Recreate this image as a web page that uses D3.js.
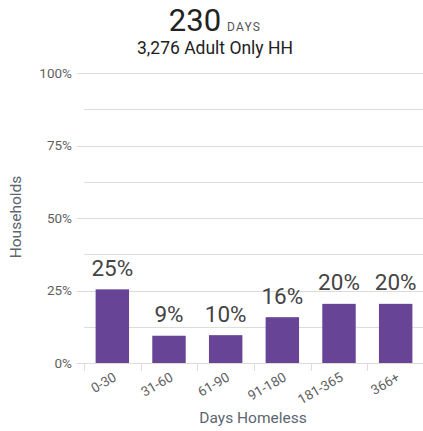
<!DOCTYPE html>
<html><head><meta charset="utf-8">
<script src="https://cdn.jsdelivr.net/npm/d3@7"></script>
<style>
body{margin:0;background:#fff;}
text{font-family:Roboto,"Noto Sans",sans-serif;}
</style></head>
<body>
<svg id="chart" width="423" height="431"></svg>
<script>
const categories = ["0-30","31-60","61-90","91-180","181-365","366+"];
const values = [25.4, 9.4, 9.6, 15.8, 20.4, 20.4];
const yTicks = [0, 25, 50, 75, 100];
const yMinor = [12.5, 37.5, 62.5, 87.5];
const totalDays = "230";
const subtitle = "3,276 Adult Only HH";

const svg = d3.select("#chart");
const x = d3.scaleBand().domain(categories).range([84, 424]).paddingInner(0.41).paddingOuter(0.205);
const y = d3.scaleLinear().domain([0, 100]).range([363, 73]);

// gridlines
svg.append("g").selectAll("line").data(yTicks.concat(yMinor)).join("line")
  .attr("x1", d => yTicks.includes(d) ? 77 : 84).attr("x2", 423)
  .attr("y1", d => Math.round(y(d)) + 0.5).attr("y2", d => Math.round(y(d)) + 0.5)
  .attr("stroke", "#dcdcdc").attr("stroke-width", 1);

// y labels
svg.append("g").selectAll("text").data(yTicks).join("text")
  .attr("x", 72).attr("y", d => y(d) + 4.5).attr("text-anchor", "end")
  .attr("font-size", 13.5).attr("fill", "#5f5f5f").text(d => d + "%");

// x tick marks
const bounds = categories.map(c => x(c) - x.step() * x.paddingInner() / 2);
svg.append("g").selectAll("line").data(bounds).join("line")
  .attr("x1", d => Math.round(d) + 0.5).attr("x2", d => Math.round(d) + 0.5)
  .attr("y1", 363).attr("y2", 371).attr("stroke", "#dcdcdc");

// bars
svg.append("g").selectAll("rect").data(values).join("rect")
  .attr("x", (d, i) => x(categories[i])).attr("width", x.bandwidth())
  .attr("y", d => y(d)).attr("height", d => y(0) - y(d))
  .attr("fill", "#674495");

// value labels
svg.append("g").selectAll("text").data(values).join("text")
  .attr("x", (d, i) => x(categories[i]) + x.bandwidth() / 2)
  .attr("y", d => y(d) - 13.5).attr("text-anchor", "middle")
  .attr("font-size", 22.5).attr("fill", "#444").text(d => Math.round(d) + "%");

// x labels
svg.append("g").selectAll("text").data(categories).join("text")
  .attr("transform", c => `translate(${x(c) + x.bandwidth() / 2 + 5},${380}) rotate(-30)`)
  .attr("text-anchor", "end").attr("font-size", 13.5).attr("fill", "#5f5f5f").text(c => c);

// axis titles
svg.append("text").attr("x", 253).attr("y", 423).attr("text-anchor", "middle")
  .attr("font-size", 15.5).attr("fill", "#5b6670").text("Days Homeless");
svg.append("text").attr("transform", "translate(21,217) rotate(-90)").attr("text-anchor", "middle")
  .attr("font-size", 15.5).attr("fill", "#5b6670").text("Households");

// title
const t = svg.append("text").attr("x", 215).attr("y", 31).attr("text-anchor", "middle").attr("fill", "#222");
t.append("tspan").attr("font-size", 31).text(totalDays);
t.append("tspan").attr("font-size", 12).attr("fill", "#555").attr("dx", 6).attr("letter-spacing", 1.2).text("DAYS");
svg.append("text").attr("x", 215).attr("y", 54).attr("text-anchor", "middle")
  .attr("font-size", 17.5).attr("fill", "#222").text(subtitle);
</script>
</body></html>
